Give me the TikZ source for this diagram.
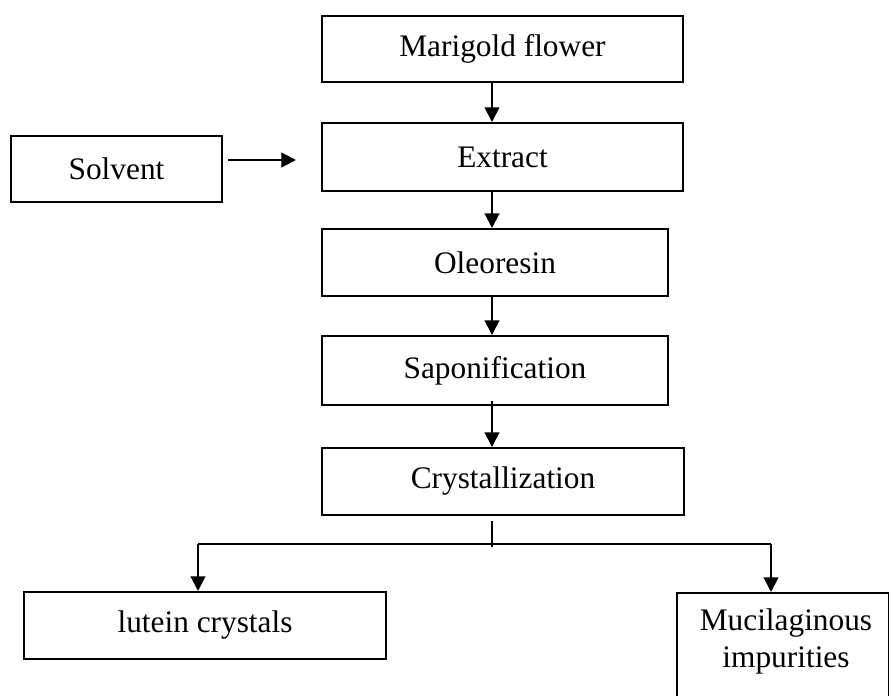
\documentclass[tikz,border=0pt]{standalone}
\usepackage{fontspec}
\setmainfont{Liberation Serif}
\usetikzlibrary{arrows.meta}
\tikzset{
  box/.style={draw, line width=1.5pt, inner sep=0pt, align=center,
    font=\fontsize{23.5pt}{27.75pt}\selectfont},
  lbl/.style={inner sep=0pt, align=center, font=\fontsize{23.5pt}{27.75pt}\selectfont},
  arr/.style={line width=1.5pt, -{Triangle[length=11pt,width=11pt]}},
  ln/.style={line width=1.5pt}
}
\begin{document}
\begin{tikzpicture}[x=0.75pt,y=-0.75pt]
\useasboundingbox (0,0) rectangle (889,696);
\clip (0,0) rectangle (889,696);
\coordinate (spine) at (492,0);
\coordinate (lbr) at (198,0);
\coordinate (rbr) at (771,0);

\node[box, minimum width=270.75pt, minimum height=49.5pt] (marigold) at (502.5,49) {Marigold flower};
\node[box, minimum width=270.75pt, minimum height=51pt] (extract) at (502.5,157) {Extract};
\node[box, minimum width=158.25pt, minimum height=49.5pt] (solvent) at (116.5,169) {Solvent};
\node[box, minimum width=259.5pt, minimum height=50.25pt] (oleo) at (495,262.5) {Oleoresin};
\node[box, minimum width=259.5pt, minimum height=51.75pt] (sapon) at (495,370.5) {Saponification};
\node[box, minimum width=271.5pt, minimum height=50.25pt] (cryst) at (503,481.5) {Crystallization};
\node[box, minimum width=271.5pt, minimum height=50.25pt] (lutein) at (205,625.5) {lutein crystals};
\node[box, minimum width=159pt, minimum height=90pt, anchor=north west] (mucil) at (676,592) {};
\node[lbl] (mucillabel) at (786,641) {Mucilaginous\\impurities};

\coordinate (solvarrowend) at (296,160);
\coordinate (junction) at (491.5,544);

\draw[arr] (marigold.south -| spine) -- (extract.north -| spine);
\draw[arr] (extract.south -| spine) -- (oleo.north -| spine);
\draw[arr] (oleo.south -| spine) -- (sapon.north -| spine);
\draw[arr] ([yshift=3.75pt]sapon.south -| spine) -- (cryst.north -| spine);
\draw[arr] ([xshift=3.75pt]solvent.east |- solvarrowend) -- (solvarrowend);
\draw[ln] ([yshift=-3.75pt]cryst.south -| junction) -- ([yshift=-2.25pt]junction);
\draw[ln] (junction -| lbr) -- (junction -| rbr);
\draw[arr] (junction -| lbr) -- (lutein.north -| lbr);
\draw[arr] (junction -| rbr) -- (mucil.north -| rbr);
\end{tikzpicture}
\end{document}
